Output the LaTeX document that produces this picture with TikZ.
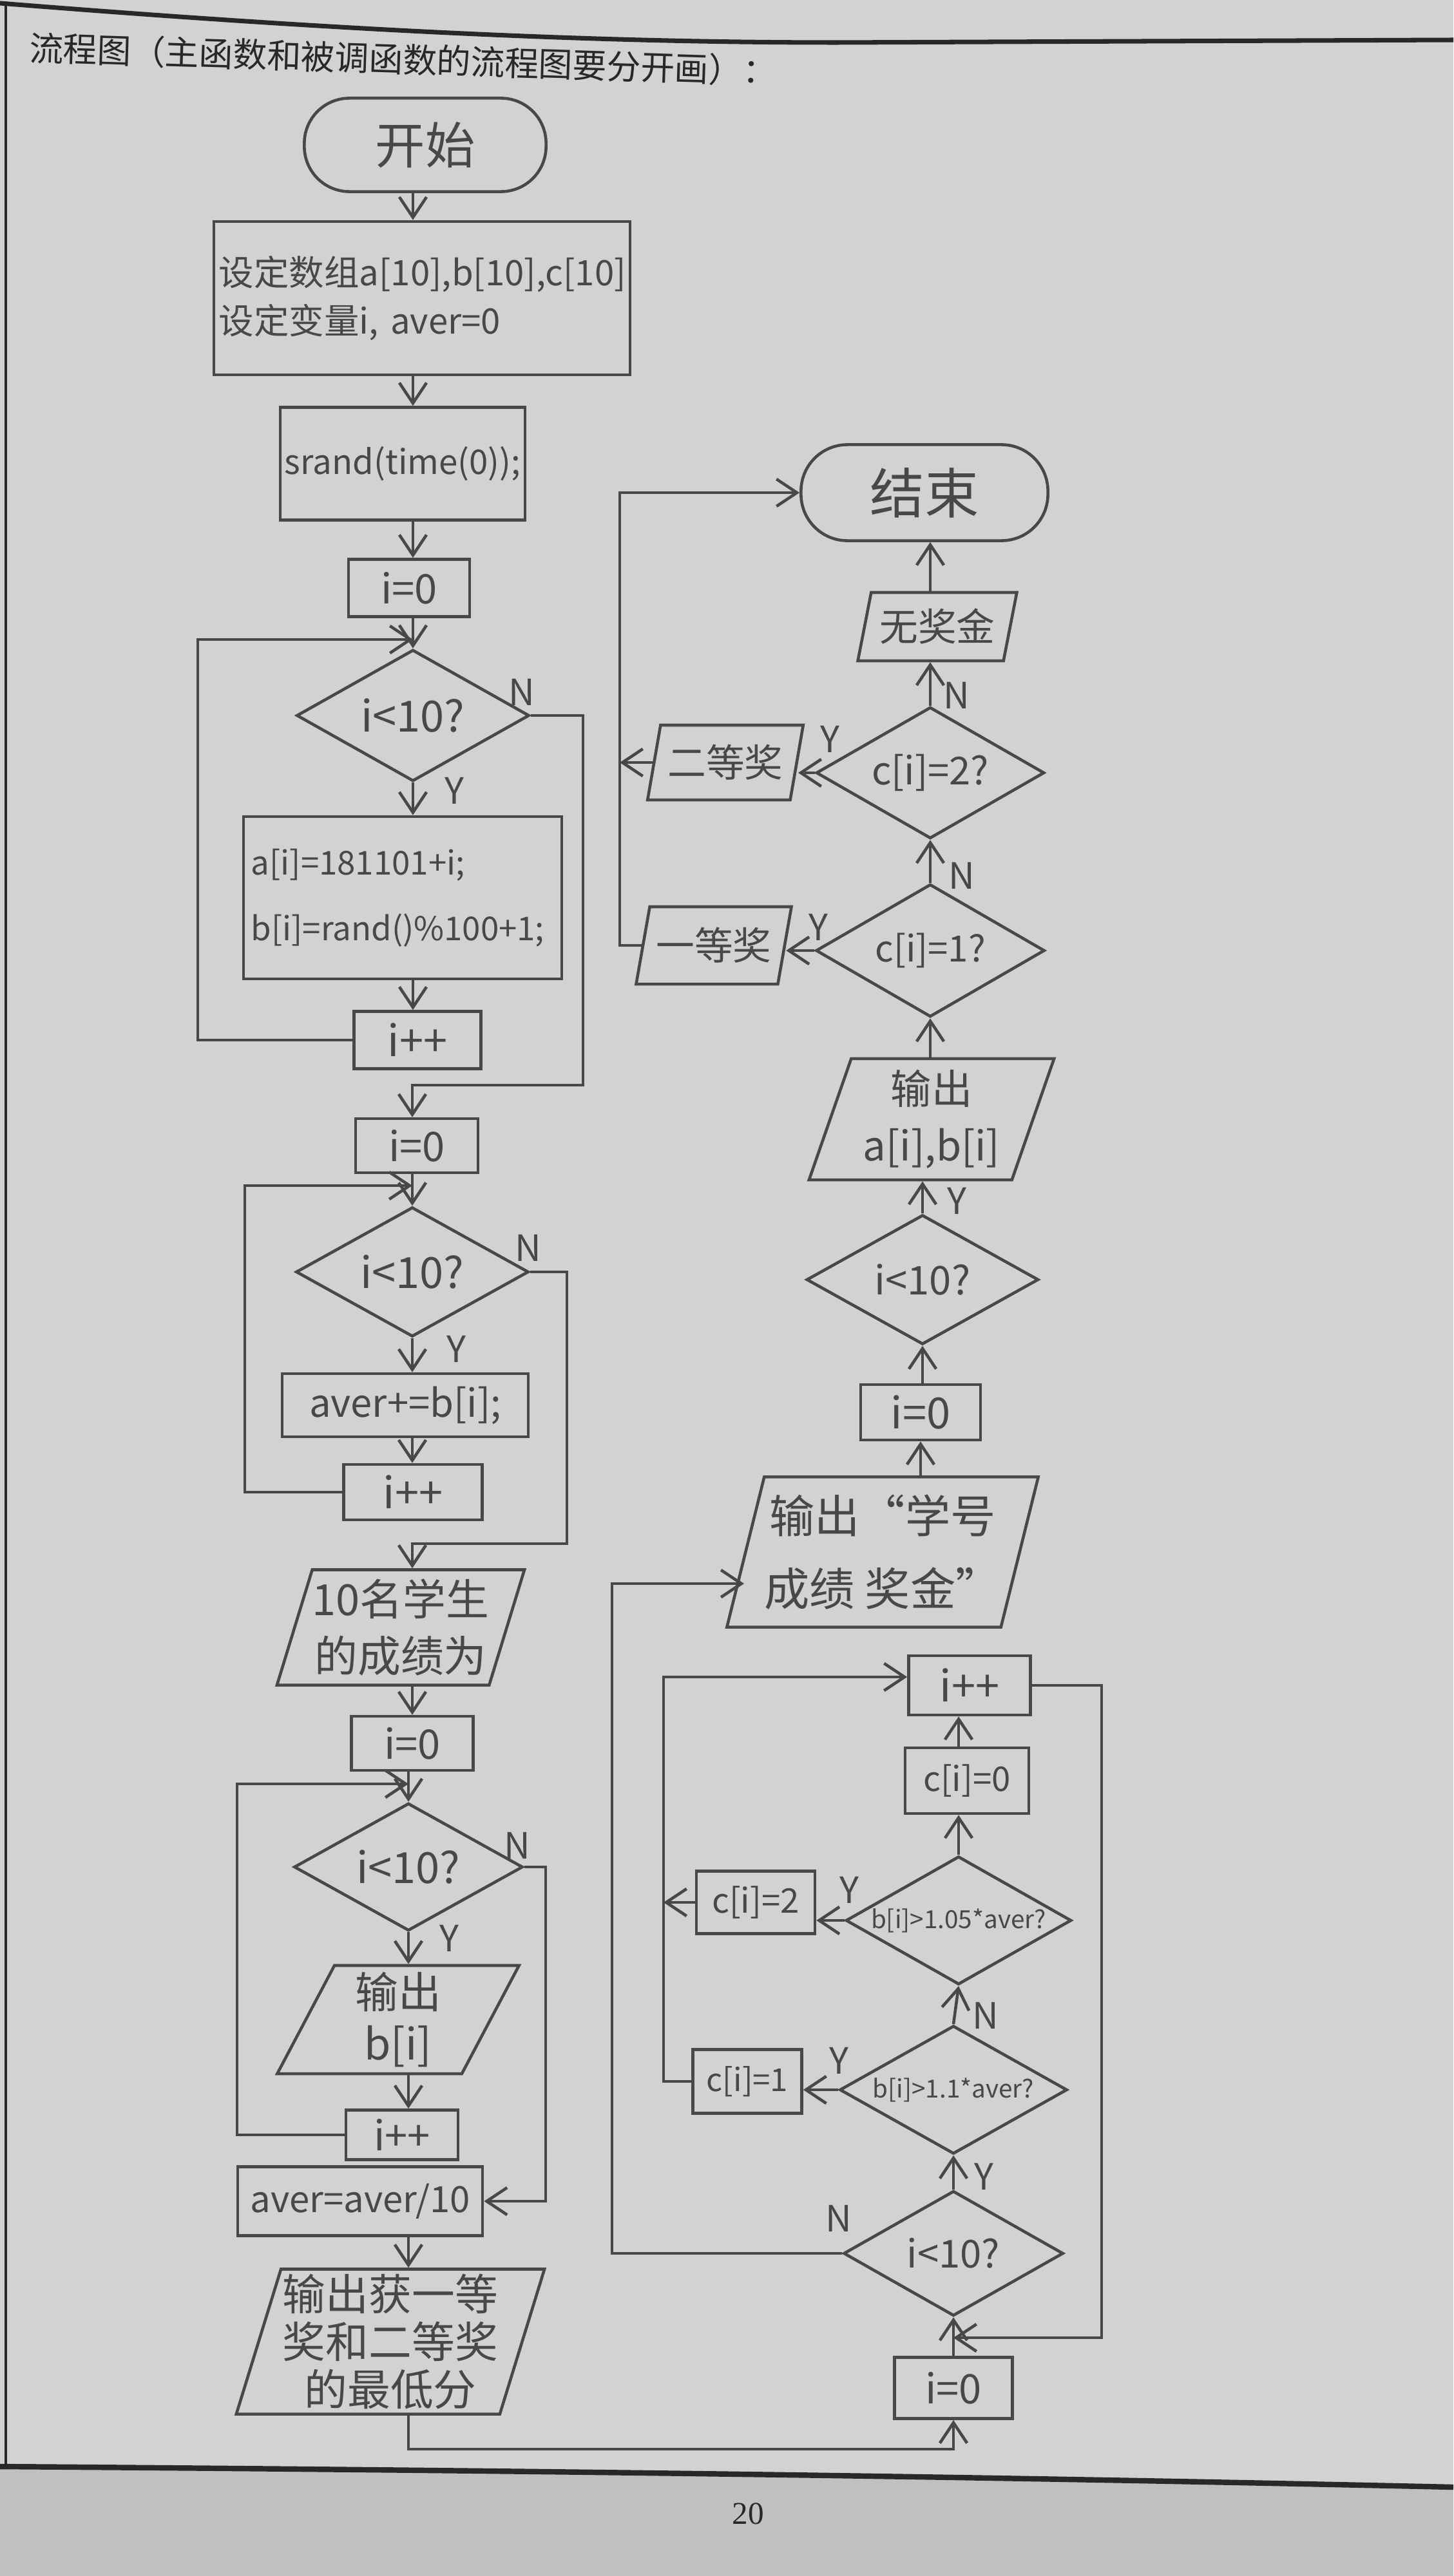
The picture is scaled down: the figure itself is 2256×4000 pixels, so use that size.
\documentclass[tikz,border=0pt]{standalone}
\usepackage{fontspec}
\newfontfamily\cjk{Noto Sans CJK SC}
\newfontfamily\pnum{Liberation Serif}
\usetikzlibrary{shapes.geometric,arrows.meta}
\definecolor{paper}{RGB}{212,210,208}
\definecolor{shadecol}{RGB}{192,192,194}
\definecolor{penc}{RGB}{72,72,72}
\definecolor{ink}{RGB}{40,40,40}
\newcommand\hwf[2]{\cjk\fontsize{#1}{#2}\selectfont}
\begin{document}
\begin{tikzpicture}[x=0.01cm,y=-0.01cm,
  pen/.style={draw=penc, line width=1.3pt},
  box/.style={pen, rectangle, inner sep=2pt, text=penc, align=center},
  dia/.style={pen, diamond, shape aspect=1.77, inner sep=0pt, text=penc},
  io/.style={pen, trapezium, trapezium stretches=true, inner sep=0pt, text=penc, align=center},
  term/.style={pen, rectangle, text=penc},
  arr/.style={pen, -{Straight Barb[length=9pt,width=12pt,line width=1.3pt]}},
  lbl/.style={text=penc, font=\hwf{16pt}{16pt}, inner sep=0pt},
]
\useasboundingbox (0,0) rectangle (2256,4000);
\fill[paper] (0,0) rectangle (2256,4000);
\fill[shadecol] (0,3830) .. controls (800,3836) and (1500,3845) .. (2256,3862) -- (2256,4000) -- (0,4000) -- cycle;
\draw[line width=2.4pt, ink] (0,3830) .. controls (800,3836) and (1500,3845) .. (2256,3862);
\draw[line width=2pt, ink] (0,5) .. controls (500,45) and (900,66) .. (1300,66) -- (2256,62);
\draw[line width=1.2pt, ink] (9,5) -- (9,3830);

\node[anchor=west, text=ink, font=\hwf{15pt}{15pt}, rotate=-1.8, inner sep=0pt] (title) at (45,74) {流程图（主函数和被调函数的流程图要分开画）：};
\node[text=ink, font=\pnum\fontsize{14pt}{14pt}\selectfont] (pg) at (1161,3903) {20};

% ---------- left column ----------
\node[term, rounded corners=0.7cm, minimum width=3.75cm, minimum height=1.45cm, font=\hwf{22pt}{22pt}] (start) at (660,225) {开始};
\node[box, minimum width=6.46cm, minimum height=2.38cm, text width=6.3cm, align=left, font=\hwf{15.5pt}{21.5pt}] (init) at (655,463) {设定数组a[10],b[10],c[10]\\设定变量i, aver=0};
\node[box, minimum width=3.75cm, minimum height=1.75cm, font=\hwf{15pt}{15pt}] (srand) at (625,720) {srand(time(0));};
\node[box, minimum width=1.88cm, minimum height=0.89cm, font=\hwf{18pt}{18pt}] (i0a) at (635,913) {i=0};
\node[dia, minimum width=3.61cm, minimum height=2.04cm, font=\hwf{19pt}{19pt}] (d1) at (641,1111) {i<10?};
\node[box, minimum width=4.94cm, minimum height=2.52cm, text width=4.7cm, align=left, font=\hwf{14.5pt}{29pt}] (body1) at (625,1394) {a[i]=181101+i;\\b[i]=rand()\%100+1;};
\node[box, minimum width=1.97cm, minimum height=0.89cm, font=\hwf{19pt}{19pt}] (ipp1) at (648,1615) {i++};

\node[box, minimum width=1.90cm, minimum height=0.84cm, font=\hwf{18pt}{18pt}] (i0b) at (647,1779) {i=0};
\node[dia, minimum width=3.61cm, minimum height=2.01cm, font=\hwf{19pt}{19pt}] (d2) at (640,1975) {i<10?};
\node[box, minimum width=3.82cm, minimum height=0.98cm, font=\hwf{17pt}{17pt}] (body2) at (629,2182) {aver+=b[i];};
\node[box, minimum width=2.15cm, minimum height=0.86cm, font=\hwf{19pt}{19pt}] (ipp2) at (641,2317) {i++};

\node[io, trapezium left angle=70, trapezium right angle=110, minimum width=3.75cm, minimum height=1.79cm, font=\hwf{19pt}{25pt}] (out1) at (622,2527) {10名学生\\的成绩为};
\node[box, minimum width=1.89cm, minimum height=0.84cm, font=\hwf{18pt}{18pt}] (i0c) at (640,2707) {i=0};
\node[dia, minimum width=3.55cm, minimum height=1.98cm, font=\hwf{19pt}{19pt}] (d3) at (634,2899) {i<10?};
\node[io, trapezium left angle=68, trapezium right angle=112, minimum width=3.77cm, minimum height=1.68cm, font=\hwf{19pt}{23pt}] (out2) at (618,3136) {输出\\b[i]};
\node[box, minimum width=1.74cm, minimum height=0.77cm, font=\hwf{18pt}{18pt}] (ipp3) at (624,3315) {i++};
\node[box, minimum width=3.80cm, minimum height=1.07cm, font=\hwf{16pt}{16pt}] (avg) at (559,3418) {aver=aver/10};
\node[io, trapezium left angle=72, trapezium right angle=108, minimum width=4.79cm, minimum height=2.25cm, font=\hwf{19pt}{21pt}] (out3) at (606,3636) {输出获一等\\奖和二等奖\\的最低分};

% ---------- right column ----------
\node[box, minimum width=1.83cm, minimum height=0.95cm, font=\hwf{18pt}{18pt}] (i0d) at (1480,3708) {i=0};
\node[dia, minimum width=3.41cm, minimum height=1.94cm, font=\hwf{17pt}{17pt}] (d4) at (1480,3499) {i<10?};
\node[dia, minimum width=3.53cm, minimum height=1.99cm, font=\hwf{11pt}{11pt}] (d5) at (1480,3245) {b[i]>1.1*aver?};
\node[box, minimum width=1.69cm, minimum height=0.99cm, font=\hwf{14pt}{14pt}] (c1) at (1160,3232) {c[i]=1};
\node[dia, minimum width=3.50cm, minimum height=1.99cm, font=\hwf{11pt}{11pt}] (d6) at (1488,2982) {b[i]>1.05*aver?};
\node[box, minimum width=1.84cm, minimum height=0.97cm, font=\hwf{15pt}{15pt}] (c2) at (1173,2954) {c[i]=2};
\node[box, minimum width=1.92cm, minimum height=1.02cm, font=\hwf{15pt}{15pt}] (c0) at (1501,2765) {c[i]=0};
\node[box, minimum width=1.89cm, minimum height=0.92cm, font=\hwf{19pt}{19pt}] (ipp4) at (1505,2617) {i++};
\node[io, trapezium left angle=72, trapezium right angle=108, minimum width=4.79cm, minimum height=2.33cm, font=\hwf{20pt}{32pt}] (out4) at (1370,2410) {输出“学号\\成绩\ 奖金”};
\node[box, minimum width=1.86cm, minimum height=0.86cm, font=\hwf{19pt}{19pt}] (i0e) at (1429,2193) {i=0};
\node[dia, minimum width=3.60cm, minimum height=2.01cm, font=\hwf{17.5pt}{17.5pt}] (d7) at (1432,1987) {i<10?};
\node[io, trapezium left angle=70, trapezium right angle=110, minimum width=3.82cm, minimum height=1.88cm, font=\hwf{18pt}{25pt}] (out5) at (1446,1738) {输出\\a[i],b[i]};
\node[dia, minimum width=3.55cm, minimum height=2.06cm, font=\hwf{16pt}{16pt}] (d8) at (1444,1476) {c[i]=1?};
\node[dia, minimum width=3.54cm, minimum height=2.04cm, font=\hwf{17pt}{17pt}] (d9) at (1444,1200) {c[i]=2?};
\node[io, trapezium left angle=71, trapezium right angle=109, minimum width=2.42cm, minimum height=1.20cm, font=\hwf{17pt}{17pt}] (p1) at (1108,1468) {一等奖};
\node[io, trapezium left angle=72, trapezium right angle=108, minimum width=2.42cm, minimum height=1.16cm, font=\hwf{17pt}{17pt}] (p2) at (1126,1184) {二等奖};
\node[io, trapezium left angle=72, trapezium right angle=108, minimum width=2.47cm, minimum height=1.06cm, font=\hwf{17pt}{17pt}] (p0) at (1455,973) {无奖金};
\node[term, rounded corners=0.72cm, minimum width=3.83cm, minimum height=1.49cm, font=\hwf{24pt}{24pt}] (stop) at (1435,765) {结束};

% ---------- labels ----------
\node[lbl] (n1) at (810,1075) {N};
\node[lbl] (y1) at (705,1228) {Y};
\node[lbl] (n2) at (820,1938) {N};
\node[lbl] (y2) at (708,2095) {Y};
\node[lbl] (n3) at (803,2866) {N};
\node[lbl] (y3) at (697,3010) {Y};
\node[lbl] (n4) at (1302,3445) {N};
\node[lbl] (y4) at (1527,3380) {Y};
\node[lbl] (n5) at (1530,3130) {N};
\node[lbl] (y5) at (1302,3200) {Y};
\node[lbl] (y6) at (1318,2935) {Y};
\node[lbl] (y7) at (1485,1865) {Y};
\node[lbl] (n8) at (1493,1360) {N};
\node[lbl] (y8) at (1270,1440) {Y};
\node[lbl] (n9) at (1485,1080) {N};
\node[lbl] (y9) at (1288,1148) {Y};

% ---------- left connectors ----------
\draw[arr] (d1.north |- start.south) -- (d1.north |- init.north);
\draw[arr] (d1.north |- init.south) -- (d1.north |- srand.north);
\draw[arr] (d1.north |- srand.south) -- (d1.north |- i0a.north);
\draw[arr] (d1.north |- i0a.south) -- (d1.north);
\draw[arr] (d1.south) -- (d1.south |- body1.north);
\draw[arr] (d1.south |- body1.south) -- (d1.south |- ipp1.north);
\coordinate (L1) at (307,993);
\coordinate (J1) at (641,993);
\draw[arr] (ipp1.west) -| (L1) -- (J1);
\coordinate (R1) at (905,1685);
\draw[arr] (d1.east) -| (R1) -- (R1 -| d2.north) -- (d2.north |- i0b.north);

\draw[arr] (d2.north |- i0b.south) -- (d2.north);
\draw[arr] (d2.south) -- (d2.south |- body2.north);
\draw[arr] (d2.south |- body2.south) -- (d2.south |- ipp2.north);
\coordinate (L2) at (380,1841);
\coordinate (J2) at (640,1841);
\draw[arr] (ipp2.west) -| (L2) -- (J2);
\coordinate (R2) at (880,2397);
\draw[arr] (d2.east) -| (R2) -- (R2 -| d2.south) -- (d2.south |- out1.north);

\draw[arr] (d2.south |- out1.south) -- (d2.south |- i0c.north);
\draw[arr] (d3.north |- i0c.south) -- (d3.north);
\draw[arr] (d3.south) -- (d3.south |- out2.north);
\draw[arr] (d3.south |- out2.south) -- (d3.south |- ipp3.north);
\coordinate (L3) at (368,2770);
\coordinate (J3) at (634,2770);
\draw[arr] (ipp3.west) -| (L3) -- (J3);
\coordinate (R3) at (847,3418);
\draw[arr] (d3.east) -| (R3) -- (R3 -| avg.east);
\draw[arr] (d3.south |- avg.south) -- (d3.south |- out3.north);
\coordinate (B1) at (630,3803);
\draw[arr] (d3.south |- out3.south) -- (d3.south |- B1) -| (i0d.south);

% ---------- right connectors ----------
\draw[arr] (i0d.north) -- (d4.south);
\coordinate (R4) at (1710,3630);
\draw[arr] (ipp4.east) -| (R4) -- (R4 -| d4.south);
\coordinate (L4) at (950,2459);
\draw[arr] (d4.west) -| (L4) -- (L4 -| out4.west);
\draw[arr] (d4.north) -- (d5.south);
\draw[arr] (d5.west) -- (d5.west -| c1.east);
\coordinate (L5) at (1030,2604);
\draw[arr] (c1.west) -| (L5) -- (L5 -| ipp4.west);
\draw[arr] (d5.north) -- (d6.south);
\draw[arr] (d6.west) -- (d6.west -| c2.east);
\draw[arr] (c2.west) -- (c2.west -| L5);
\draw[arr] (d6.north) -- (d6.north |- c0.south);
\draw[arr] (d6.north |- c0.north) -- (d6.north |- ipp4.south);
\draw[arr] (i0e.south |- out4.north) -- (i0e.south);
\draw[arr] (d7.south |- i0e.north) -- (d7.south);
\draw[arr] (d7.north) -- (d7.north |- out5.south);
\draw[arr] (d8.south |- out5.north) -- (d8.south);
\draw[arr] (d8.north) -- (d9.south);
\draw[arr] (d8.west) -- (d8.west -| p1.east);
\coordinate (L6) at (962,765);
\draw[arr] (p1.west) -| (L6) -- (L6 -| stop.west);
\draw[arr] (d9.west) -- (d9.west -| p2.east);
\draw[arr] (p2.west) -- (p2.west -| L6);
\draw[arr] (d9.north) -- (d9.north |- p0.south);
\draw[arr] (d9.north |- p0.north) -- (d9.north |- stop.south);
\end{tikzpicture}
\end{document}
